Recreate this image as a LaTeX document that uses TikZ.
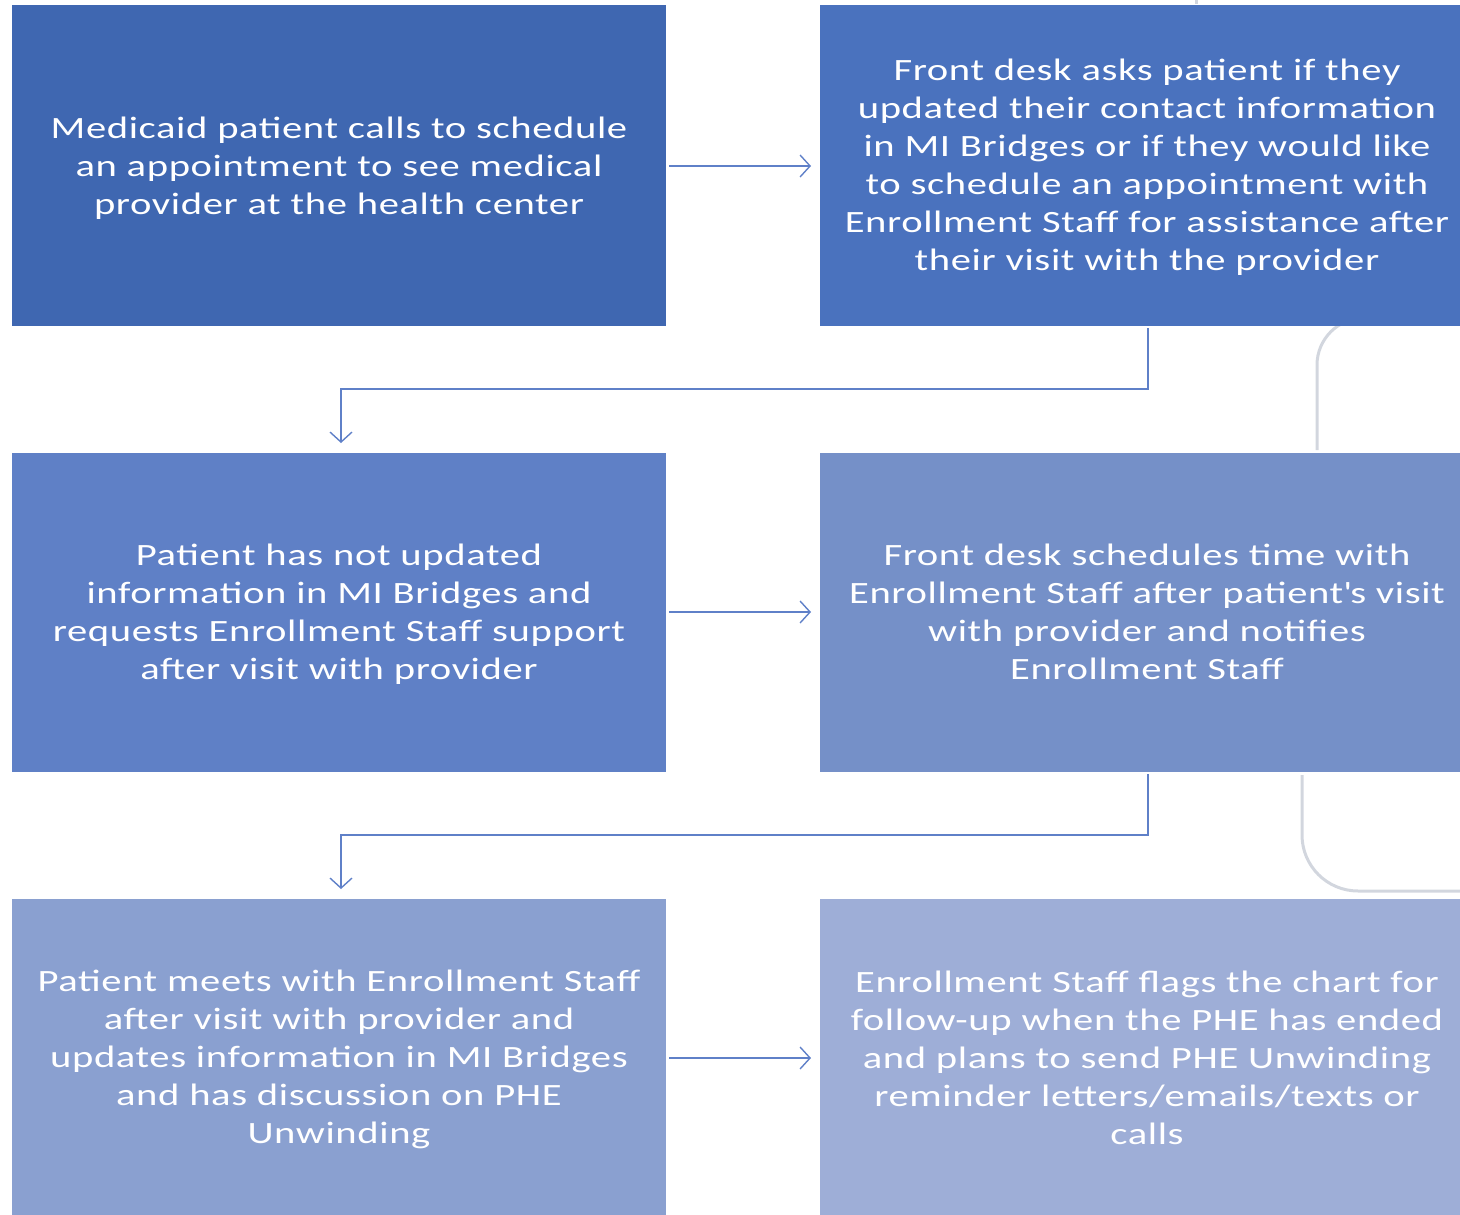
\documentclass[tikz,border=0pt]{standalone}
\usepackage{fontspec}
\setmainfont{Carlito}[FakeStretch=1.31,LetterSpace=2]
\usetikzlibrary{arrows.meta}
\definecolor{cA}{RGB}{63,103,177}
\definecolor{cB}{RGB}{74,114,190}
\definecolor{cC}{RGB}{95,128,198}
\definecolor{cD}{RGB}{117,144,200}
\definecolor{cE}{RGB}{138,160,208}
\definecolor{cF}{RGB}{158,174,215}
\definecolor{arr}{RGB}{95,128,200}
\definecolor{gry}{RGB}{210,214,222}
\tikzset{
  box/.style={draw=none, inner sep=0pt, outer sep=0pt, text=white, align=center,
    font=\fontsize{31}{38}\selectfont},
  flow/.style={draw=arr, line width=1.4pt, -{Straight Barb[length=10pt,width=22pt,line width=1.4pt]}},
  ghost/.style={draw=gry, line width=3pt},
}
\begin{document}
\begin{tikzpicture}[x=1pt,y=1pt]
\useasboundingbox (0,0) rectangle (1460,-1215);
% faint background connectors
\draw[ghost] (1317,-450) -- (1317,-365) arc[start angle=180,end angle=90,radius=47];
\draw[ghost] (1302,-775) -- (1302,-835) arc[start angle=180,end angle=270,radius=56] -- (1460,-891);
\draw[ghost] (1196,0) -- (1196,-4);
% boxes
\fill[cA] (12,-5) rectangle (666,-326);
\node[box] (b1) at (339,-168) {Medicaid patient calls to schedule\\an appointment to see medical\\provider at the health center};
\fill[cB] (820,-5) rectangle (1460,-326);
\node[box] (b2) at (1147,-167) {Front desk asks patient if they\\updated their contact information\\in MI Bridges or if they would like\\to schedule an appointment with\\Enrollment Staff for assistance after\\their visit with the provider};
\fill[cC] (12,-453) rectangle (666,-772);
\node[box] (b3) at (339,-614.5) {Patient has not updated\\information in MI Bridges and\\requests Enrollment Staff support\\after visit with provider};
\fill[cD] (820,-453) rectangle (1460,-772);
\node[box] (b4) at (1147,-612) {Front desk schedules time with\\Enrollment Staff after patient\textquotesingle s visit\\with provider and notifies\\Enrollment Staff};
\fill[cE] (12,-899) rectangle (666,-1215);
\node[box] (b5) at (339,-1059.5) {Patient meets with Enrollment Staff\\after visit with provider and\\updates information in MI Bridges\\and has discussion on PHE\\Unwinding};
\fill[cF] (820,-899) rectangle (1460,-1215);
\node[box] (b6) at (1147,-1057.5) {Enrollment Staff flags the chart for\\follow-up when the PHE has ended\\and plans to send PHE Unwinding\\reminder letters/emails/texts or\\calls};
% anchor coordinates
\coordinate (b1e) at (669,-166);
\coordinate (b2w) at (811,-166);
\coordinate (b3e) at (669,-612);
\coordinate (b4w) at (811,-612);
\coordinate (b5e) at (669,-1058);
\coordinate (b6w) at (811,-1058);
\coordinate (b2s) at (1148,-328);
\coordinate (b3n) at (341,-443);
\coordinate (b4s) at (1148,-774);
\coordinate (b5n) at (341,-889);
% connectors
\draw[flow] (b1e) -- (b2w);
\draw[flow] (b3e) -- (b4w);
\draw[flow] (b5e) -- (b6w);
\draw[flow] (b2s) -- (1148,-389) -| (b3n);
\draw[flow] (b4s) -- (1148,-835) -| (b5n);
\end{tikzpicture}
\end{document}
